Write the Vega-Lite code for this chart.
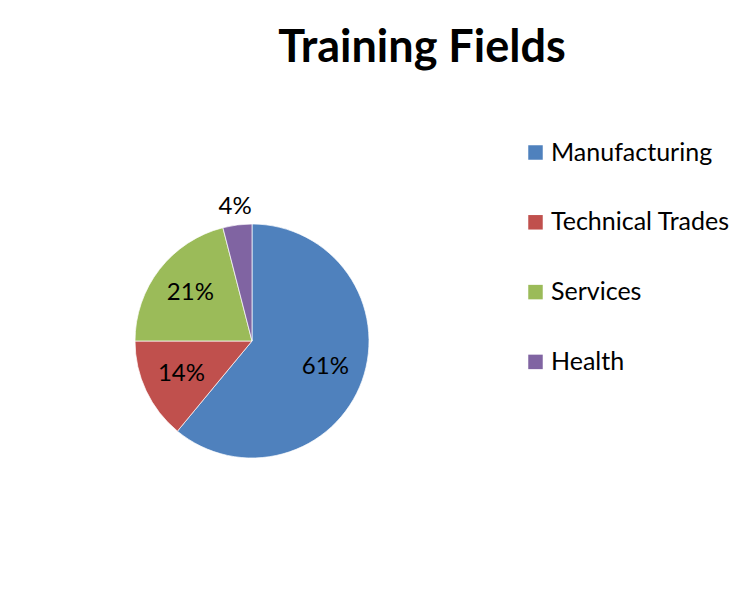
{
  "$schema": "https://vega.github.io/schema/vega-lite/v6.json",
  "width": 234,
  "height": 234,
  "autosize": {"type": "none"},
  "padding": {"left": 135, "top": 224, "right": 375, "bottom": 136},
  "background": "white",
  "config": {"view": {"stroke": null}, "font": "Lato"},
  "title": {
    "text": "Training Fields",
    "font": "Lato",
    "fontSize": 45,
    "fontWeight": "bold",
    "color": "black",
    "anchor": "middle",
    "frame": "group",
    "baseline": "alphabetic",
    "dx": 170,
    "offset": 33
  },
  "data": {
    "values": [
      {"field": "Manufacturing", "share": 0.61, "idx": 1},
      {"field": "Technical Trades", "share": 0.14, "idx": 2},
      {"field": "Services", "share": 0.21, "idx": 3},
      {"field": "Health", "share": 0.04, "idx": 4}
    ]
  },
  "encoding": {
    "theta": {"field": "share", "type": "quantitative", "stack": true},
    "order": {"field": "idx", "type": "quantitative"},
    "color": {
      "field": "field",
      "type": "nominal",
      "sort": ["Manufacturing", "Technical Trades", "Services", "Health"],
      "scale": {
        "domain": ["Manufacturing", "Technical Trades", "Services", "Health"],
        "range": ["#4F81BD", "#C0504D", "#9BBB59", "#8064A2"]
      },
      "legend": {
        "title": null,
        "orient": "none",
        "legendX": 388,
        "legendY": -84,
        "padding": 0,
        "symbolType": "square",
        "symbolSize": 210,
        "symbolStrokeWidth": 0,
        "symbolOpacity": 1,
        "labelFont": "Lato",
        "labelFontSize": 25,
        "labelColor": "black",
        "labelOffset": 3,
        "labelLimit": 300,
        "rowPadding": 43.8
      }
    }
  },
  "layer": [
    {
      "mark": {"type": "arc", "outerRadius": 117, "stroke": "white", "strokeWidth": 0.7}
    },
    {
      "mark": {
        "type": "text",
        "font": "Lato",
        "fontSize": 24,
        "color": "black",
        "radius": {"expr": "datum.share < 0.05 ? 135 : 78"}
      },
      "encoding": {
        "text": {"field": "share", "type": "quantitative", "format": ".0%"},
        "color": {"value": "black"}
      }
    }
  ]
}
